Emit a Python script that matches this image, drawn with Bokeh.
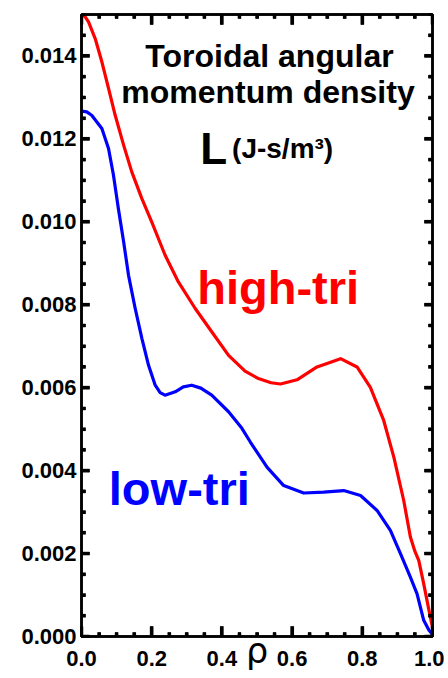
from bokeh.plotting import figure
from bokeh.models import (Range1d, SingleIntervalTicker, PrintfTickFormatter, Label,
                          LinearAxis, CustomJSTickFormatter)
from bokeh.embed import file_html
from bokeh.resources import INLINE

# ---- data ----
rho_high = [0.000, 0.010, 0.020, 0.039, 0.058, 0.077, 0.096, 0.120, 0.143, 0.172, 0.200,
            0.238, 0.276, 0.324, 0.371, 0.419, 0.466, 0.504, 0.540, 0.567, 0.614, 0.671,
            0.738, 0.785, 0.823, 0.861, 0.890, 0.918, 0.937, 0.950, 0.961, 0.975, 0.990, 1.000]
L_high = [0.01500, 0.01495, 0.01482, 0.01442, 0.01386, 0.01322, 0.01257, 0.01185, 0.01121,
          0.01056, 0.01000, 0.00920, 0.00855, 0.00791, 0.00735, 0.00678, 0.00640, 0.00622,
          0.00612, 0.00609, 0.00619, 0.00650, 0.00670, 0.00650, 0.00601, 0.00521, 0.00432,
          0.00328, 0.00240, 0.00205, 0.00183, 0.00127, 0.00063, 0.00022]

rho_low = [0.000, 0.015, 0.029, 0.058, 0.077, 0.091, 0.105, 0.120, 0.134, 0.153, 0.172,
           0.191, 0.210, 0.224, 0.238, 0.267, 0.290, 0.314, 0.340, 0.371, 0.419, 0.457,
           0.481, 0.529, 0.576, 0.633, 0.690, 0.747, 0.795, 0.842, 0.880, 0.909, 0.937,
           0.956, 0.975, 0.990, 1.000]
L_low = [0.01267, 0.01265, 0.01257, 0.01225, 0.01177, 0.01113, 0.01032, 0.00952, 0.00871,
         0.00791, 0.00719, 0.00654, 0.00606, 0.00588, 0.00582, 0.00590, 0.00602, 0.00606,
         0.00599, 0.00582, 0.00542, 0.00502, 0.00469, 0.00408, 0.00364, 0.00346, 0.00348,
         0.00352, 0.00340, 0.00304, 0.00256, 0.00199, 0.00143, 0.00103, 0.00039, 0.00015,
         0.00005]

x_range = (0.0, 1.0)
y_range = (0.0, 0.015)
x_major_ticks = [0.0, 0.2, 0.4, 0.6, 0.8, 1.0]
x_minor_ticks = [0.05, 0.10, 0.15, 0.25, 0.30, 0.35, 0.45, 0.50, 0.55, 0.65, 0.70, 0.75,
                 0.85, 0.90, 0.95]
y_major_ticks = [0.000, 0.002, 0.004, 0.006, 0.008, 0.010, 0.012, 0.014]
y_minor_ticks = [0.0005, 0.0010, 0.0015, 0.0025, 0.0030, 0.0035, 0.0045, 0.0050, 0.0055,
                 0.0065, 0.0070, 0.0075, 0.0085, 0.0090, 0.0095, 0.0105, 0.0110, 0.0115,
                 0.0125, 0.0130, 0.0135, 0.0145]

FONT = "Liberation Sans"
FRAME_W, FRAME_H = 351, 622

p = figure(frame_width=FRAME_W, frame_height=FRAME_H,
           x_range=Range1d(*x_range), y_range=Range1d(*y_range),
           output_backend="svg", toolbar_location=None,
           min_border_left=81, min_border_top=14, min_border_right=12, min_border_bottom=36,
           background_fill_color="white", border_fill_color="white")
p.xgrid.visible = False
p.ygrid.visible = False
p.outline_line_color = "black"
p.outline_line_width = 2.5

X_MAJ_PX, Y_MAJ_PX, MIN_PX, TICK_W_PX = 10, 8, 4, 3


def style_axis(ax, interval, maj_px, standoff, fmt=None):
    ax.ticker = SingleIntervalTicker(interval=interval, num_minor_ticks=4)
    if fmt is None:
        ax.formatter = CustomJSTickFormatter(code="return '';")
        ax.major_label_text_font_size = "1px"
    else:
        ax.formatter = PrintfTickFormatter(format=fmt)
        ax.major_label_text_font_size = "22px"
    ax.axis_line_color = "black"
    ax.axis_line_width = 2.5
    ax.major_tick_in = maj_px
    ax.major_tick_out = 0
    ax.minor_tick_in = MIN_PX
    ax.minor_tick_out = 0
    ax.major_tick_line_width = TICK_W_PX
    ax.minor_tick_line_width = TICK_W_PX
    ax.major_tick_line_color = "black"
    ax.minor_tick_line_color = "black"
    ax.major_label_text_font = FONT
    ax.major_label_text_font_style = "bold"
    ax.major_label_text_color = "black"
    ax.major_label_standoff = standoff


bottom_axis = p.below[0]
left_axis = p.left[0]
style_axis(bottom_axis, 0.2, X_MAJ_PX, 14, "%.1f")
style_axis(left_axis, 0.002, Y_MAJ_PX, 5, "%.3f")

# x-axis title: the Greek rho, sitting in the row of the tick labels
bottom_axis.axis_label = "ρ"
bottom_axis.axis_label_text_font = "DejaVu Sans"
bottom_axis.axis_label_text_font_style = "normal"
bottom_axis.axis_label_text_font_size = "35px"
bottom_axis.axis_label_text_color = "black"
bottom_axis.axis_label_standoff = -38

top_axis = LinearAxis()
style_axis(top_axis, 0.2, X_MAJ_PX, 0)
p.add_layout(top_axis, "above")
right_axis = LinearAxis()
style_axis(right_axis, 0.002, Y_MAJ_PX, 0)
p.add_layout(right_axis, "right")

p.line(rho_high, L_high, line_color="#ff0000", line_width=3.2, line_join="round")
p.line(rho_low, L_low, line_color="#0000ff", line_width=3.2, line_join="round")

# inward tick marks drawn also as small filled boxes (pixel sizes -> data units)
dx = (x_range[1] - x_range[0]) / FRAME_W
dy = (y_range[1] - y_range[0]) / FRAME_H
hw_x = TICK_W_PX / 2 * dx
hw_y = TICK_W_PX / 2 * dy
box = dict(fill_color="black", line_color="black", line_width=0.5)
for ticks, px in ((x_major_ticks, X_MAJ_PX), (x_minor_ticks, MIN_PX)):
    n = len(ticks)
    left = [t - hw_x for t in ticks]
    right = [t + hw_x for t in ticks]
    p.quad(left=left, right=right, bottom=[y_range[0]] * n, top=[y_range[0] + px * dy] * n, **box)
    p.quad(left=left, right=right, bottom=[y_range[1] - px * dy] * n, top=[y_range[1]] * n, **box)
for ticks, px in ((y_major_ticks, Y_MAJ_PX), (y_minor_ticks, MIN_PX)):
    n = len(ticks)
    bottom = [t - hw_y for t in ticks]
    top = [t + hw_y for t in ticks]
    p.quad(left=[x_range[0]] * n, right=[x_range[0] + px * dx] * n, bottom=bottom, top=top, **box)
    p.quad(left=[x_range[1] - px * dx] * n, right=[x_range[1]] * n, bottom=bottom, top=top, **box)

labels = [
    dict(x=0.5356, y=0.014011, text="Toroidal angular", size="32px", align="center", color="black", font=FONT, style="bold"),
    dict(x=0.5313, y=0.013119, text="momentum density", size="32px", align="center", color="black", font=FONT, style="bold"),
    dict(x=0.338, y=0.011768, text="L", size="44px", align="left", color="black", font=FONT, style="bold"),
    dict(x=0.429, y=0.011768, text="(J-s/m³)", size="28px", align="left", color="black", font=FONT, style="bold"),
    dict(x=0.3296, y=0.008424, text="high-tri", size="47px", align="left", color="#ff0000", font=FONT, style="bold"),
    dict(x=0.0778, y=0.003562, text="low-tri", size="47px", align="left", color="#0000ff", font=FONT, style="bold"),
]
for d in labels:
    p.add_layout(Label(x=d["x"], y=d["y"], text=d["text"], text_font_size=d["size"],
                       text_align=d["align"], text_baseline="alphabetic",
                       text_color=d["color"], text_font=d["font"], text_font_style=d["style"]))

open("out.html", "w").write(file_html(p, INLINE))
